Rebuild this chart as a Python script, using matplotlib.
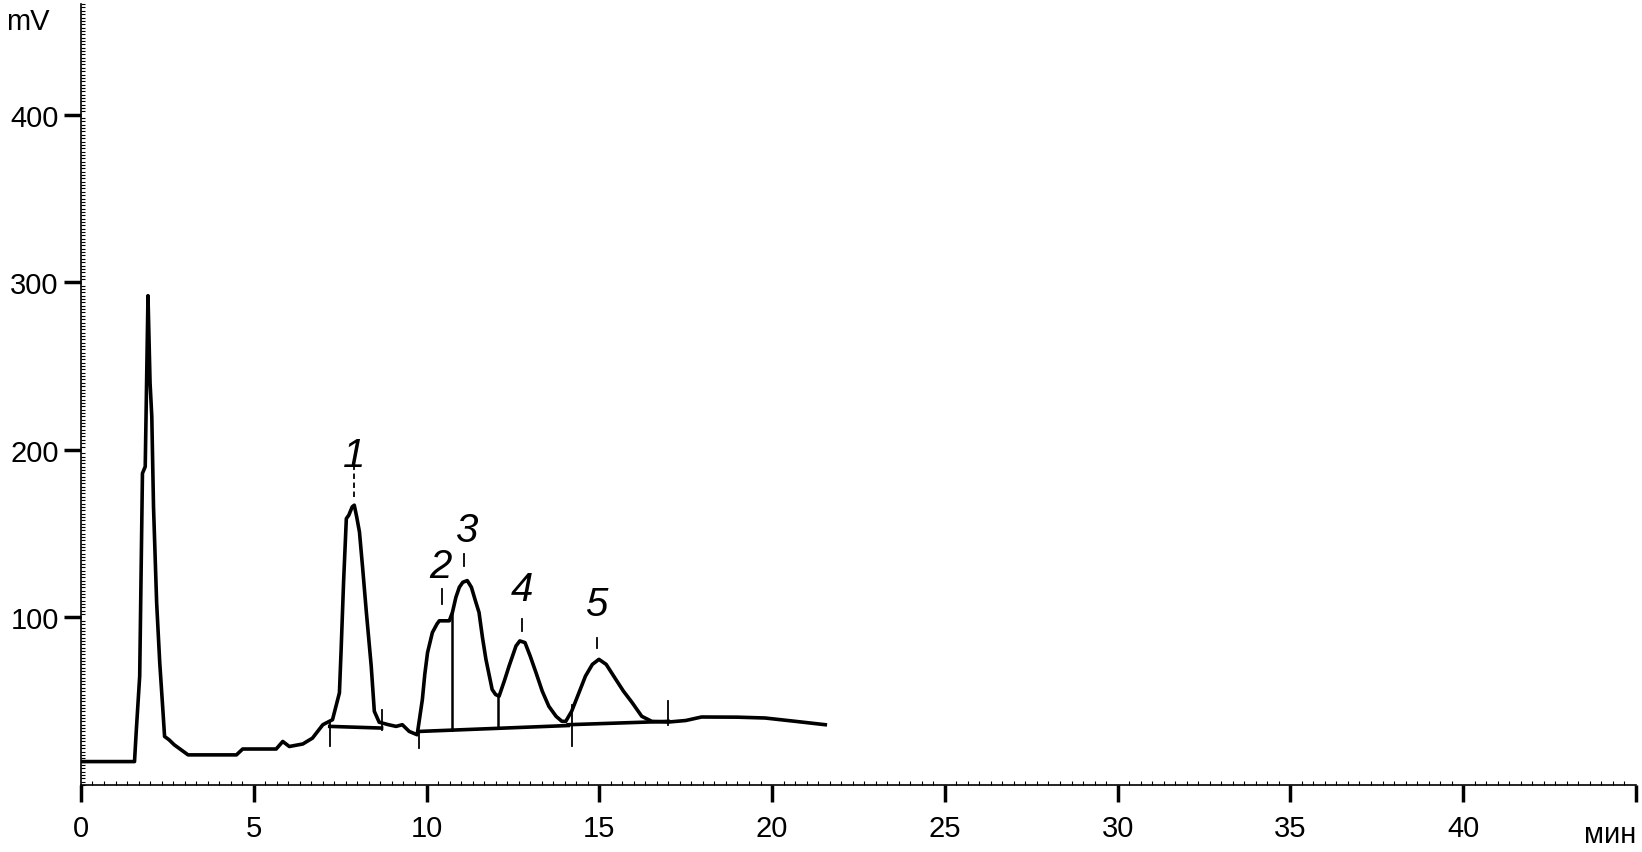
import numpy as np
import matplotlib
matplotlib.use('Agg')
import matplotlib.pyplot as plt
from matplotlib.ticker import MultipleLocator

plt.rcParams['font.family'] = ['Liberation Sans', 'DejaVu Sans']

# chromatogram trace (time in min, signal in mV)
time_min = [0, 1.55, 1.6, 1.7, 1.78, 1.86, 1.94, 2.0, 2.05, 2.1, 2.19, 2.28, 2.37,
            2.42, 2.55, 2.7, 3.1, 4.5, 4.68, 5.65, 5.84, 6.03, 6.42, 6.7, 7.0, 7.28,
            7.48, 7.53, 7.6, 7.68, 7.75, 7.85, 7.91, 7.98, 8.06, 8.15, 8.26, 8.4, 8.49,
            8.63, 8.9, 9.12, 9.3, 9.5, 9.73, 9.88, 9.95, 10.03, 10.17, 10.3, 10.37,
            10.66, 10.75, 10.85, 10.95, 11.05, 11.18, 11.3, 11.4, 11.52, 11.62, 11.72,
            11.9, 12.0, 12.1, 12.25, 12.39, 12.59, 12.7, 12.85, 13.0, 13.17, 13.35,
            13.54, 13.75, 13.92, 14.03, 14.2, 14.41, 14.6, 14.8, 14.99, 15.2, 15.48,
            15.7, 15.94, 16.23, 16.52, 17.0, 17.5, 17.96, 19.0, 19.8, 20.68, 21.54]
signal_mv = [14, 14, 32, 65, 186, 190, 292, 240, 220, 166, 109, 73, 45,
             29, 27, 24, 18, 18, 21.5, 21.5, 26, 23, 24.5, 28, 36, 39,
             55, 81, 121, 159, 161, 166, 167, 160, 151, 130, 103, 71, 44,
             37.5, 36, 35, 36, 32, 30, 51, 66, 79, 91, 96, 98,
             98, 103, 112, 118, 121, 122, 118, 111, 103, 88, 75,
             57, 54, 53, 62, 71, 83, 86, 85, 77, 67, 56,
             47, 41, 38, 38, 44, 55, 65, 72, 75, 72, 63,
             56, 49.5, 41, 38, 37.6, 38.5, 40.6, 40.5, 40, 38, 36]

# integration baselines
base_t0 = [7.2, 9.8, 14.1]
base_v0 = [35, 32, 36]
base_t1 = [8.7, 14.1, 17.0]
base_v1 = [34, 35.5, 38]

# perpendicular drops between overlapping peaks
drop_t = [10.74, 12.07]

# start/end markers of integration
mark_t = [7.2, 8.72, 9.78, 14.2, 17.0]
mark_lo = [23, 33, 22, 23, 36]
mark_hi = [38, 45, 32, 48, 50]

# peak labels
peak_labels = ['1', '2', '3', '4', '5']
label_t = [7.9, 10.4, 11.15, 12.77, 14.9]
label_v = [197, 131, 152, 117, 108]
dash_t = [7.91, 10.45, 11.09, 12.76, 14.93]
dash_lo = [172, 108, 131, 92, 82]
dash_hi = [193, 117, 138, 99, 88]

fig = plt.figure(figsize=(16.42, 8.53), dpi=100)
ax = fig.add_axes([0.0493, 0.0785, 0.947, 0.9155])

ax.plot(time_min, signal_mv, color='black', lw=2.6, solid_joinstyle='round')

for t0, v0, t1, v1 in zip(base_t0, base_v0, base_t1, base_v1):
    ax.plot([t0, t1], [v0, v1], color='black', lw=2.6)

all_bt = [7.2, 8.7, 9.8, 14.1, 17.0]
all_bv = [35, 34, 32, 35.5, 38]
for t in drop_t:
    ax.plot([t, t], [np.interp(t, all_bt, all_bv), np.interp(t, time_min, signal_mv)],
            color='black', lw=1.8)

for t, lo, hi in zip(mark_t, mark_lo, mark_hi):
    ax.plot([t, t], [lo, hi], color='black', lw=1.3)

for lab, t, v in zip(peak_labels, label_t, label_v):
    ax.text(t, v, lab, fontsize=29, style='italic', ha='center', va='center')

for i, (t, lo, hi) in enumerate(zip(dash_t, dash_lo, dash_hi)):
    ax.plot([t, t], [lo, hi], color='black', lw=1.3,
            linestyle=(0, (3, 2)) if i == 0 else '-')

ax.set_xlim(0, 45)
ax.set_ylim(0, 466)
ax.set_xticks([0, 5, 10, 15, 20, 25, 30, 35, 40, 45])
ax.set_xticklabels(['0', '5', '10', '15', '20', '25', '30', '35', '40', ''])
ax.set_yticks([100, 200, 300, 400])
ax.xaxis.set_minor_locator(MultipleLocator(1 / 3))
ax.yaxis.set_minor_locator(MultipleLocator(2))

ax.tick_params(axis='both', which='major', length=12, width=2.5, labelsize=21,
               direction='out', colors='black')
ax.tick_params(axis='x', which='major', pad=9)
ax.tick_params(axis='y', which='major', pad=4)
ax.tick_params(axis='both', which='minor', length=3, width=0.8, direction='in')

for s in ['top', 'right']:
    ax.spines[s].set_visible(False)
for s in ['left', 'bottom']:
    ax.spines[s].set_linewidth(1.2)

fig.text(6 / 1642, 1 - 22 / 853, 'mV', fontsize=21, ha='left', va='center')
fig.text(1610 / 1642, 1 - 835 / 853, 'мин', fontsize=21, ha='center', va='center')

fig.savefig('out.png', dpi=100)
